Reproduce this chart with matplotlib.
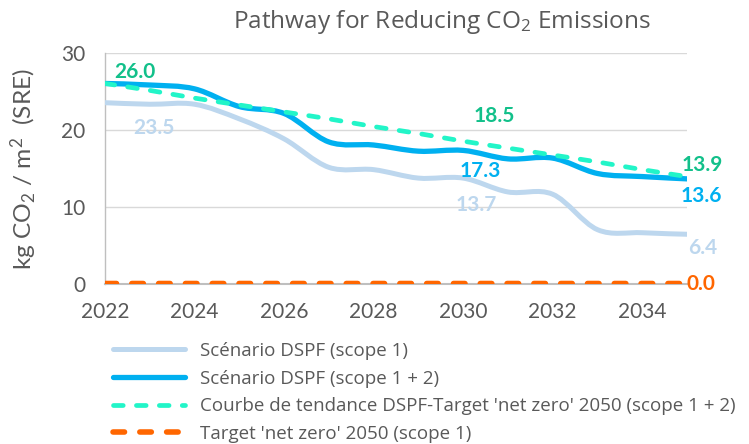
import numpy as np
import matplotlib
matplotlib.use("Agg")
import matplotlib.pyplot as plt
from matplotlib.path import Path
from matplotlib.patches import PathPatch
from matplotlib.lines import Line2D

plt.rcParams["lines.scale_dashes"] = False

# ── data ─────────────────────────────────────────────────────────────────────
years = [2022, 2023, 2024, 2025, 2026, 2027, 2028, 2029, 2030, 2031, 2032, 2033, 2034, 2035]
scope1 = [23.5, 23.3, 23.3, 21.4, 18.8, 15.1, 14.8, 13.7, 13.7, 11.9, 11.6, 7.0, 6.6, 6.4]
scope12 = [26.0, 25.8, 25.3, 23.0, 22.1, 18.4, 18.0, 17.2, 17.3, 16.2, 16.3, 14.3, 13.9, 13.6]
trend = [26.0, 25.1, 24.1, 23.2, 22.3, 21.4, 20.4, 19.5, 18.5, 17.6, 16.7, 15.8, 14.8, 13.9]
target = [0.0] * 14

series_labels = [
    "Scénario DSPF (scope 1)",
    "Scénario DSPF (scope 1 + 2)",
    "Courbe de tendance DSPF-Target 'net zero' 2050 (scope 1 + 2)",
    "Target 'net zero' 2050 (scope 1)",
]

C_S1 = "#bdd7ee"
C_S12 = "#00b0f0"
C_TREND = "#22f5c8"
C_TREND_TXT = "#12c08a"
C_TARGET = "#ff6600"
C_TEXT = "#595959"
C_GRID = "#d9d9d9"

# (series index, year, offset px) for the data labels
LABELS = [
    (2, 2022, (30, 11)),
    (0, 2022, (49, -25)),
    (2, 2030, (31, 25)),
    (1, 2030, (17, -21)),
    (0, 2030, (13, -27)),
    (2, 2035, (15, 12)),
    (1, 2035, (14, -17)),
    (0, 2035, (16, -14)),
    (3, 2035, (14, 0)),
]


def smooth_path(xs, ys):
    """Excel-style smoothed line as cubic Bezier segments through the points."""
    pts = np.column_stack([xs, ys]).astype(float)
    n = len(pts)
    verts = [pts[0]]
    codes = [Path.MOVETO]
    for i in range(n - 1):
        p0 = pts[i - 1] if i > 0 else pts[i]
        p1, p2 = pts[i], pts[i + 1]
        p3 = pts[i + 2] if i + 2 < n else pts[i + 1]
        verts += [p1 + (p2 - p0) / 6, p2 - (p3 - p1) / 6, p2]
        codes += [Path.CURVE4] * 3
    return Path(verts, codes)


def fit_width(txt, target_px):
    r = fig.canvas.get_renderer()
    w = txt.get_window_extent(r).width
    txt.set_fontsize(txt.get_fontsize() * target_px / w)


fig = plt.figure(figsize=(7.49, 4.44), dpi=100)
W, H = 749, 444
ax = fig.add_axes([105 / W, 1 - 283.5 / H, (687 - 105) / W, (283.5 - 52.7) / H])

styles = [
    dict(color=C_S1, lw=3.6, ls="-", z=3),
    dict(color=C_S12, lw=3.8, ls="-", z=4),
    dict(color=C_TREND, lw=3.4, ls=(0, (7.0, 9.5)), z=5),
    dict(color=C_TARGET, lw=4.0, ls=(0, (8.3, 11.0)), z=6),
]
data = [scope1, scope12, trend, target]

for vals, st in zip(data, styles):
    patch = PathPatch(smooth_path(years, vals), fill=False, edgecolor=st["color"],
                      lw=st["lw"], linestyle=st["ls"], capstyle="round",
                      joinstyle="round", zorder=st["z"])
    ax.add_patch(patch)

ax.set_xlim(2022, 2035)
ax.set_ylim(0, 30)
ax.set_xticks(np.arange(2022, 2035, 2))
ax.set_yticks([0, 10, 20, 30])
ax.grid(axis="y", color=C_GRID, lw=1.0, zorder=0)
for s in ["top", "right"]:
    ax.spines[s].set_visible(False)
ax.spines["left"].set_color("#bfbfbf")
ax.spines["bottom"].set_color("#bfbfbf")
ax.spines["left"].set_linewidth(1.0)
ax.spines["bottom"].set_linewidth(1.5)
ax.tick_params(length=0, colors=C_TEXT, labelsize=15)
ax.tick_params(axis="y", pad=14)
ax.tick_params(axis="x", pad=13)
for t in ax.get_xticklabels() + ax.get_yticklabels():
    t.set_family("Lato")
ax.set_axisbelow(True)

# data labels
txt_colors = [C_S1, C_S12, C_TREND_TXT, C_TARGET]
for si, yr, off in LABELS:
    v = data[si][years.index(yr)]
    ax.annotate(f"{v:.1f}", xy=(yr, v), xytext=off, textcoords="offset pixels",
                ha="center", va="center", fontsize=15, fontweight="bold",
                family="Lato", color=txt_colors[si], zorder=7, annotation_clip=False)

# title and axis label
title = fig.text(442 / W, 1 - 22 / H, r"Pathway for Reducing CO$\mathregular{_2}$ Emissions",
                 ha="center", va="center", family="Open Sans", fontsize=15, color=C_TEXT)
ylab = fig.text(24 / W, 1 - 169 / H, r"kg CO$\mathregular{_2}$ / m$\mathregular{^2}$  (SRE)",
                rotation=90, ha="center", va="center", family="Lato", fontsize=13,
                color=C_TEXT)
fig.canvas.draw()
fit_width(title, 419)
r = fig.canvas.get_renderer()
h = ylab.get_window_extent(r).height
ylab.set_fontsize(ylab.get_fontsize() * 202 / h)

# legend
probe = fig.text(0, 0, series_labels[2], family="Open Sans", fontsize=12)
fig.canvas.draw()
leg_fs = 12 * 535 / probe.get_window_extent(fig.canvas.get_renderer()).width
probe.remove()

handles = [Line2D([], [], color=st["color"], lw=st["lw"], ls=st["ls"],
                  solid_capstyle="round", dash_capstyle="round") for st in styles]
leg_px = leg_fs * 100 / 72
leg = fig.legend(handles, series_labels, loc="upper left",
                 bbox_to_anchor=(113 / W, 1 - 342 / H), frameon=False,
                 prop={"family": "Open Sans", "size": leg_fs},
                 handlelength=72 / leg_px, handletextpad=15 / leg_px,
                 labelspacing=0.35 + 3 / leg_px, borderpad=0, borderaxespad=0)
for t in leg.get_texts():
    t.set_color(C_TEXT)

fig.savefig("out.png", dpi=100)
